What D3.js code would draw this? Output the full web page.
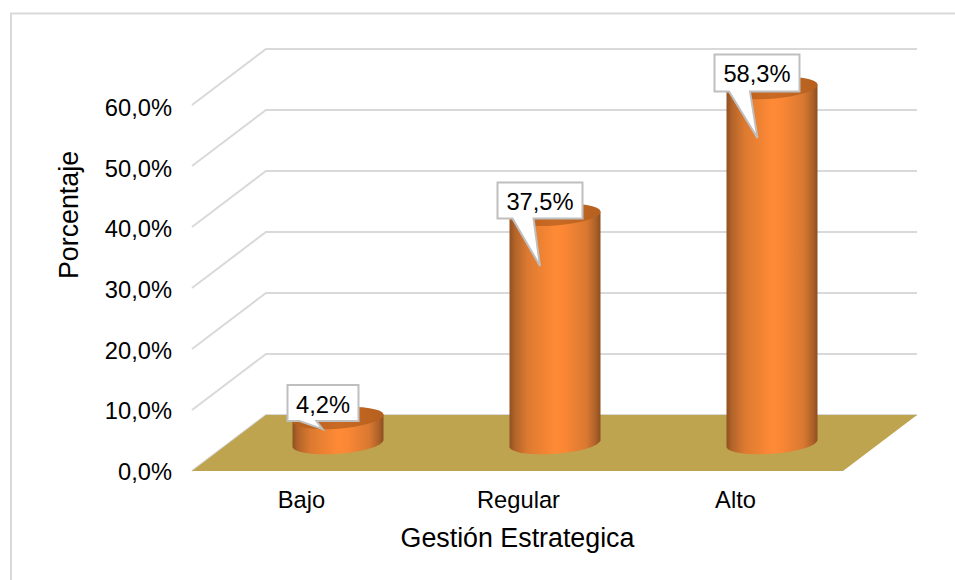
<!DOCTYPE html>
<html><head><meta charset="utf-8">
<script src="https://cdn.jsdelivr.net/npm/d3@7/dist/d3.min.js"></script>
<style>html,body{margin:0;background:#fff}svg{display:block}text{font-family:"Liberation Sans",Arial,sans-serif;fill:#000}</style>
</head><body><svg id="c" width="955" height="580"></svg>
<script>
const categories = ["Bajo","Regular","Alto"];
const values = [4.2,37.5,58.3];
const valueLabels = ["4,2%","37,5%","58,3%"];
const yTicks = [0,10,20,30,40,50,60];
const xTitle = "Gestión Estrategica";
const yTitle = "Porcentaje";

const svg = d3.select("#c");
const depthX = 74, depthY = 56;
const x = d3.scaleBand().domain(categories).range([192,843]);
const y = d3.scaleLinear().domain([0,60]).range([471,105]);
const yLabel = d3.scaleLinear().domain([0,60]).range([480,116]);
const fmt = v => d3.format(".1f")(v).replace(".",",")+"%";

const defs = svg.append("defs");
const grad = defs.append("linearGradient").attr("id","body");
[[0,"#8f5020"],[0.06,"#b3642a"],[0.2,"#dc7a30"],[0.5,"#ff8a36"],[0.6,"#fb8735"],[0.85,"#d87830"],[0.95,"#ac6029"],[1,"#8c4e20"]]
 .forEach(s=>grad.append("stop").attr("offset",s[0]).attr("stop-color",s[1]));
const gradTop = defs.append("linearGradient").attr("id","top");
[[0,"#b5601f"],[0.5,"#c96a24"],[1,"#b5601f"]]
 .forEach(s=>gradTop.append("stop").attr("offset",s[0]).attr("stop-color",s[1]));

// frame
svg.append("path").attr("d","M11,580V13.5H955").attr("fill","none").attr("stroke","#d9d9d9").attr("stroke-width",2);

// gridlines
yTicks.forEach(t=>{
  svg.append("path")
    .attr("d",`M${x.range()[0]},${y(t)}L${x.range()[0]+depthX},${y(t)-depthY}H${x.range()[1]+depthX}`)
    .attr("fill","none").attr("stroke","#d9d9d9").attr("stroke-width",2);
});
// floor
const fx0=x.range()[0], fx1=x.range()[1], fy=y(0);
svg.append("path").attr("d",`M${fx0},${fy}L${fx0+depthX},${fy-depthY}H${fx1+depthX}L${fx1},${fy}Z`).attr("fill","#bfa44f");

// tick labels
svg.append("g").selectAll("text").data(yTicks).join("text")
  .attr("x",172).attr("y",d=>yLabel(d)).attr("text-anchor","end").attr("font-size",23.7).text(fmt);
svg.append("g").selectAll("text").data(categories).join("text")
  .attr("x",d=>x(d)+x.bandwidth()/2+1).attr("y",507.5).attr("text-anchor","middle").attr("font-size",23.7).text(d=>d);
svg.append("text").attr("x",517.5).attr("y",546.5).attr("text-anchor","middle").attr("font-size",26.8).text(xTitle);
svg.append("text").attr("transform","translate(78,215) rotate(-90)").attr("text-anchor","middle").attr("font-size",26.8).text(yTitle);

// bars
const barW = 91, ry = 10.6, rot = -4.4;
const base = y(0)-depthY/2+0.7;
const h = d3.scaleLinear().domain([0,60]).range([0,y(0)-y(60)]);
const g = svg.append("g").selectAll("g").data(categories).join("g");
g.each(function(c,i){
  const sel=d3.select(this);
  const cx=x(c)+x.bandwidth()/2+depthX/2+0.5;
  const top=base-h(values[i]);
  const dy=3.5, l=cx-barW/2, r=cx+barW/2;
  sel.append("path")
    .attr("d",`M${l},${top+dy}L${l},${base+dy}A${barW/2+0.2},${ry},${rot},0,0,${r},${base-dy}L${r},${top-dy}Z`)
    .attr("fill","url(#body)");
  sel.append("ellipse").attr("rx",barW/2+0.2).attr("ry",ry)
    .attr("transform",`translate(${cx},${top}) rotate(${rot})`).attr("fill","url(#top)");
});

// callouts
const boxW = [71,85,85], pad=[-50.5,-57.5,-57.5];
const tips = [[-15.5,11],[-15,51],[-14.5,50]];
const bases = [[-38.5,-21.5],[-42.5,-21.5],[-43,-22]];
const boxTop = [-33,-32.5,-33.5];
const boxH = [36,36,37];
g.each(function(c,i){
  const cx=x(c)+x.bandwidth()/2+depthX/2+0.5, top=base-h(values[i]);
  const bx=cx+pad[i], by=top+boxTop[i], bb=by+boxH[i];
  d3.select(this).append("path")
    .attr("d",`M${bx},${by}H${bx+boxW[i]}V${bb}H${cx+bases[i][1]}L${cx+tips[i][0]},${top+tips[i][1]}L${cx+bases[i][0]},${bb}H${bx}Z`)
    .attr("fill","#fff").attr("stroke","#bfbfbf").attr("stroke-width",2);
  d3.select(this).append("text").attr("x",bx+boxW[i]/2).attr("y",by+27.5).attr("text-anchor","middle").attr("font-size",23.7).text(valueLabels[i]);
});
</script></body></html>
